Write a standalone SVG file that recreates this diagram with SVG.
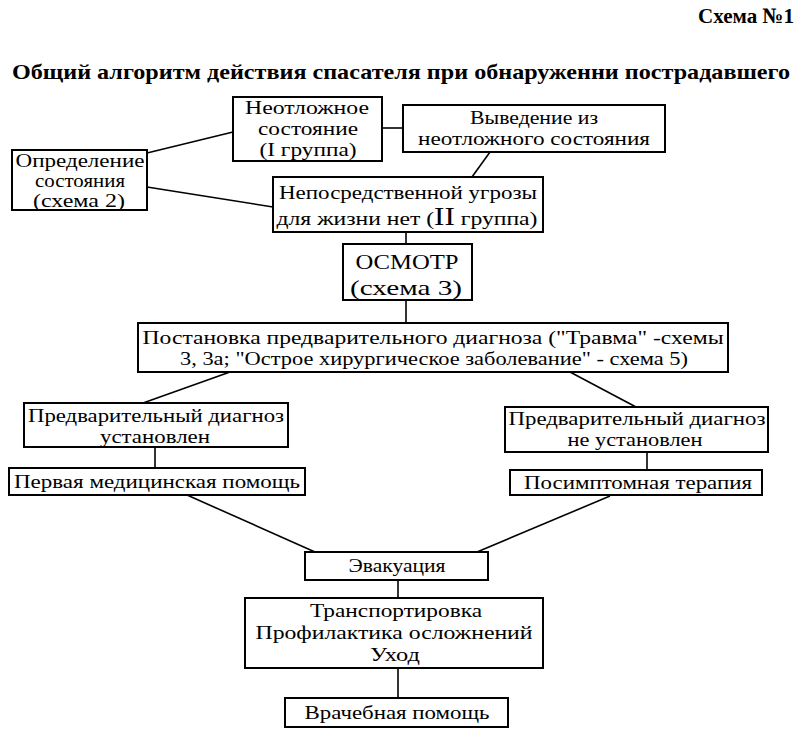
<svg xmlns="http://www.w3.org/2000/svg" width="800" height="740" viewBox="0 0 800 740">
<style>
.box{fill:#fff;stroke:#000;stroke-width:2}
.ln{stroke:#000;stroke-width:1.6;fill:none}
text{font-family:"Liberation Serif","Times New Roman",serif;font-size:19px;fill:#000;text-anchor:middle}
.t{font-size:18px}
.b{font-weight:bold}
</style>
<rect width="800" height="740" fill="#fff"/>
<text class="b" x="794" y="23" style="text-anchor:end;font-size:22px" textLength="96" lengthAdjust="spacingAndGlyphs">Схема №1</text>
<text class="b" x="401" y="79" style="font-size:21px" textLength="778" lengthAdjust="spacingAndGlyphs">Общий алгоритм действия спасателя при обнаруженни пострадавшего</text>
<g id="connectors">
<line class="ln" x1="382" y1="128" x2="403" y2="128"/>
<line class="ln" x1="147" y1="153" x2="233" y2="132"/>
<line class="ln" x1="147" y1="187" x2="273" y2="207"/>
<line class="ln" x1="490" y1="152" x2="472" y2="177"/>
<line class="ln" x1="406" y1="232" x2="406" y2="244"/>
<line class="ln" x1="406" y1="300" x2="406" y2="323"/>
<line class="ln" x1="230" y1="372" x2="143" y2="403"/>
<line class="ln" x1="570" y1="372" x2="636" y2="407"/>
<line class="ln" x1="155" y1="447" x2="155" y2="468"/>
<line class="ln" x1="647" y1="452" x2="647" y2="470"/>
<line class="ln" x1="187" y1="495" x2="315" y2="552"/>
<line class="ln" x1="610" y1="496" x2="477" y2="552"/>
<line class="ln" x1="398" y1="580" x2="398" y2="598"/>
<line class="ln" x1="398" y1="668" x2="398" y2="698"/>
</g>
<g id="n-urgent">
<rect class="box" x="233" y="97" width="149" height="64"/>
<text x="307" y="114" textLength="124" lengthAdjust="spacingAndGlyphs">Неотложное</text>
<text x="308" y="135" textLength="100" lengthAdjust="spacingAndGlyphs">состояние</text>
<text x="308" y="156" textLength="97" lengthAdjust="spacingAndGlyphs">(I группа)</text>
</g>
<g id="n-recovery">
<rect class="box" x="403" y="105" width="262" height="47"/>
<text x="534" y="124" textLength="128" lengthAdjust="spacingAndGlyphs">Выведение из</text>
<text x="534" y="145" textLength="232" lengthAdjust="spacingAndGlyphs">неотложного состояния</text>
</g>
<g id="n-define">
<rect class="box" x="12" y="150" width="135" height="60"/>
<text class="t" x="80" y="167" textLength="129" lengthAdjust="spacingAndGlyphs">Определение</text>
<text class="t" x="80" y="187" textLength="90" lengthAdjust="spacingAndGlyphs">состояния</text>
<text class="t" x="79" y="207" textLength="92" lengthAdjust="spacingAndGlyphs">(схема 2)</text>
</g>
<g id="n-noThreat">
<rect class="box" x="273" y="177" width="270" height="55"/>
<text x="408" y="199" textLength="258" lengthAdjust="spacingAndGlyphs">Непосредственной угрозы</text>
<text x="407" y="225" textLength="261" lengthAdjust="spacingAndGlyphs">для жизни нет (<tspan style="font-size:25px">II</tspan> группа)</text>
</g>
<g id="n-exam">
<rect class="box" x="343" y="244" width="129" height="56"/>
<text x="407" y="269" style="font-size:21px" textLength="103" lengthAdjust="spacingAndGlyphs">ОСМОТР</text>
<text x="406" y="295" style="font-size:21px" textLength="112" lengthAdjust="spacingAndGlyphs">(схема 3)</text>
</g>
<g id="n-diag">
<rect class="box" x="138" y="323" width="590" height="49"/>
<text class="t" x="433" y="344" textLength="581" lengthAdjust="spacingAndGlyphs">Постановка предварительного диагноза ("Травма" -схемы</text>
<text class="t" x="434" y="365" textLength="508" lengthAdjust="spacingAndGlyphs">3, 3а; "Острое хирургическое заболевание" - схема 5)</text>
</g>
<g id="n-diagYes">
<rect class="box" x="24" y="403" width="264" height="44"/>
<text x="156" y="422" textLength="256" lengthAdjust="spacingAndGlyphs">Предварительный диагноз</text>
<text x="155" y="443" textLength="110" lengthAdjust="spacingAndGlyphs">установлен</text>
</g>
<g id="n-firstAid">
<rect class="box" x="9" y="468" width="296" height="27"/>
<text x="157" y="488" textLength="286" lengthAdjust="spacingAndGlyphs">Первая медицинская помощь</text>
</g>
<g id="n-diagNo">
<rect class="box" x="505" y="407" width="263" height="45"/>
<text x="637" y="425" textLength="257" lengthAdjust="spacingAndGlyphs">Предварительный диагноз</text>
<text x="635" y="446" textLength="135" lengthAdjust="spacingAndGlyphs">не установлен</text>
</g>
<g id="n-symptom">
<rect class="box" x="510" y="470" width="252" height="25"/>
<text x="638" y="489" textLength="228" lengthAdjust="spacingAndGlyphs">Посимптомная терапия</text>
</g>
<g id="n-evac">
<rect class="box" x="305" y="552" width="183" height="28"/>
<text x="397" y="572" textLength="97" lengthAdjust="spacingAndGlyphs">Эвакуация</text>
</g>
<g id="n-transport">
<rect class="box" x="245" y="598" width="298" height="70"/>
<text x="396" y="617" textLength="172" lengthAdjust="spacingAndGlyphs">Транспортировка</text>
<text x="394" y="639" textLength="277" lengthAdjust="spacingAndGlyphs">Профилактика осложнений</text>
<text x="395" y="661" textLength="50" lengthAdjust="spacingAndGlyphs">Уход</text>
</g>
<g id="n-doctor">
<rect class="box" x="285" y="698" width="223" height="29"/>
<text x="397" y="719" textLength="185" lengthAdjust="spacingAndGlyphs">Врачебная помощь</text>
</g>
</svg>
